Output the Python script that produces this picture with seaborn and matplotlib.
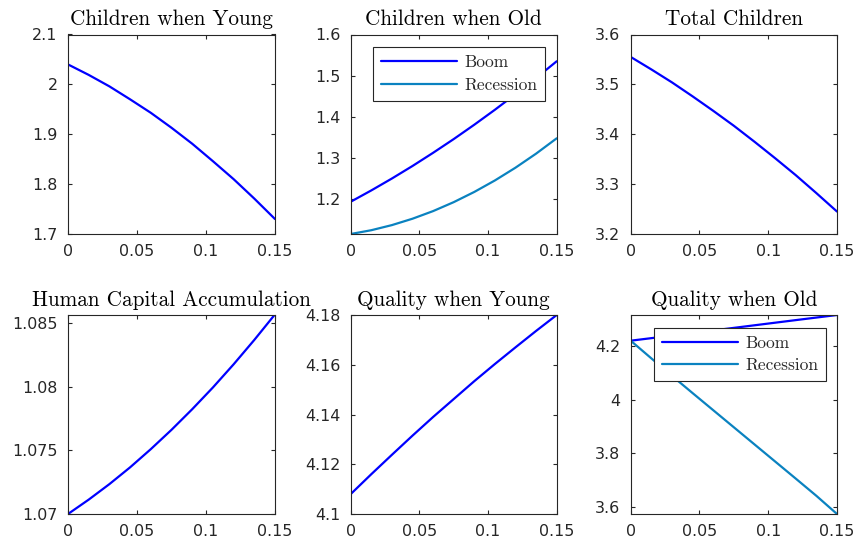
import numpy as np
import pandas as pd
import matplotlib
matplotlib.use("Agg")
import matplotlib.pyplot as plt
from matplotlib.ticker import FuncFormatter, FixedLocator
import seaborn as sns

# ---- data ----
x = [0.0, 0.015, 0.03, 0.045, 0.06, 0.075, 0.09, 0.105, 0.12, 0.135, 0.15]

children_young = [2.040, 2.019, 1.996, 1.970, 1.943, 1.913, 1.881, 1.846, 1.810, 1.771, 1.730]
children_old_boom = [1.194, 1.2215, 1.2504, 1.2808, 1.3128, 1.3461, 1.381, 1.4173, 1.4551, 1.4943, 1.535]
children_old_rec = [1.1157, 1.1249, 1.1373, 1.1528, 1.1713, 1.1930, 1.2178, 1.2457, 1.2767, 1.3108, 1.3480]
total_children = [3.555, 3.530, 3.504, 3.476, 3.447, 3.417, 3.385, 3.352, 3.318, 3.282, 3.245]
human_capital = [1.07000, 1.07113, 1.07235, 1.07367, 1.07510, 1.07662, 1.07824, 1.07995, 1.08177, 1.08369, 1.08570]
quality_young = [4.1080, 4.1160, 4.1238, 4.1315, 4.1390, 4.1462, 4.1534, 4.1603, 4.1670, 4.1736, 4.1800]
quality_old_boom = [4.2186, 4.2280, 4.2375, 4.2470, 4.2566, 4.2662, 4.2758, 4.2854, 4.2950, 4.3045, 4.3140]
quality_old_rec = [4.2186, 4.1530, 4.0880, 4.0240, 3.9605, 3.8970, 3.8335, 3.7700, 3.7065, 3.6425, 3.5750]

titles = ["Children when Young", "Children when Old", "Total Children",
          "Human Capital Accumulation", "Quality when Young", "Quality when Old"]
series_names = ["Boom", "Recession"]
x_ticks = [0, 0.05, 0.1, 0.15]
y_ticks = [
    [1.7, 1.8, 1.9, 2.0, 2.1],
    [1.2, 1.3, 1.4, 1.5, 1.6],
    [3.2, 3.3, 3.4, 3.5, 3.6],
    [1.07, 1.075, 1.08, 1.085],
    [4.1, 4.12, 4.14, 4.16, 4.18],
    [3.6, 3.8, 4.0, 4.2],
]
y_limits = [(1.7, 2.1), (1.1157, 1.6), (3.2, 3.6), (1.07, 1.08565), (4.1, 4.18), (3.575, 4.314)]

# ---- style ----
sns.set_style("ticks")
plt.rcParams["font.family"] = ["DejaVu Sans"]
AX_COLOR = "#262626"
BOOM = "#0000ff"
REC = "#0a82c0"

fig = plt.figure(figsize=(8.59, 5.46), dpi=100)
W, H = 859.0, 546.0
col_px = [(68, 275), (350.7, 556.7), (630.7, 837)]
row_px = [(34.5, 234), (315, 514)]

axes = []
for r, (yt, yb) in enumerate(row_px):
    for c, (xl, xr) in enumerate(col_px):
        ax = fig.add_axes([xl / W, 1 - yb / H, (xr - xl) / W, (yb - yt) / H])
        axes.append(ax)

def make_df(series):
    rows = []
    for name, vals in series:
        for xi, yi in zip(x, vals):
            rows.append({"x": xi, "y": yi, "s": name})
    return pd.DataFrame(rows)

single = [children_young, None, total_children, human_capital, quality_young, None]
double = {1: (children_old_boom, children_old_rec), 5: (quality_old_boom, quality_old_rec)}

fmt = FuncFormatter(lambda v, p: ("%g" % round(v, 6)))

for i, ax in enumerate(axes):
    if i in double:
        b, rr = double[i]
        df = make_df([(series_names[0], b), (series_names[1], rr)])
        sns.lineplot(data=df, x="x", y="y", hue="s", palette=[BOOM, REC],
                     linewidth=1.6, ax=ax, legend=True, estimator=None)
    else:
        df = make_df([("v", single[i])])
        sns.lineplot(data=df, x="x", y="y", color=BOOM, linewidth=1.6, ax=ax,
                     estimator=None)
    ax.set_xlim(0, 0.15)
    ax.set_ylim(*y_limits[i])
    ax.xaxis.set_major_locator(FixedLocator(x_ticks))
    ax.yaxis.set_major_locator(FixedLocator(y_ticks[i]))
    ax.xaxis.set_major_formatter(fmt)
    ax.yaxis.set_major_formatter(fmt)
    ax.set_xlabel("")
    ax.set_ylabel("")
    for sp in ax.spines.values():
        sp.set_visible(True)
        sp.set_color(AX_COLOR)
        sp.set_linewidth(0.8)
    ax.tick_params(direction="in", length=3, width=0.8, color=AX_COLOR,
                   labelcolor=AX_COLOR, labelsize=11.4, top=True, right=True,
                   pad=7.5)
    ax.set_title(titles[i], family="cmr10", fontsize=15.3, color="black", pad=6.5)

    if i in double:
        anchor = (0.943, 0.937) if i == 1 else (0.947, 0.936)
        leg = ax.legend(loc="upper right", bbox_to_anchor=anchor, borderaxespad=0,
                        frameon=True, fancybox=False, framealpha=1,
                        edgecolor=AX_COLOR, handlelength=4.37, handletextpad=0.42,
                        borderpad=0.46, labelspacing=0.4,
                        prop={"family": "cmr10", "size": 12.5})
        leg.get_frame().set_linewidth(0.8)
        for line in leg.get_lines():
            line.set_linewidth(1.6)

fig.savefig("out.png", dpi=100)
